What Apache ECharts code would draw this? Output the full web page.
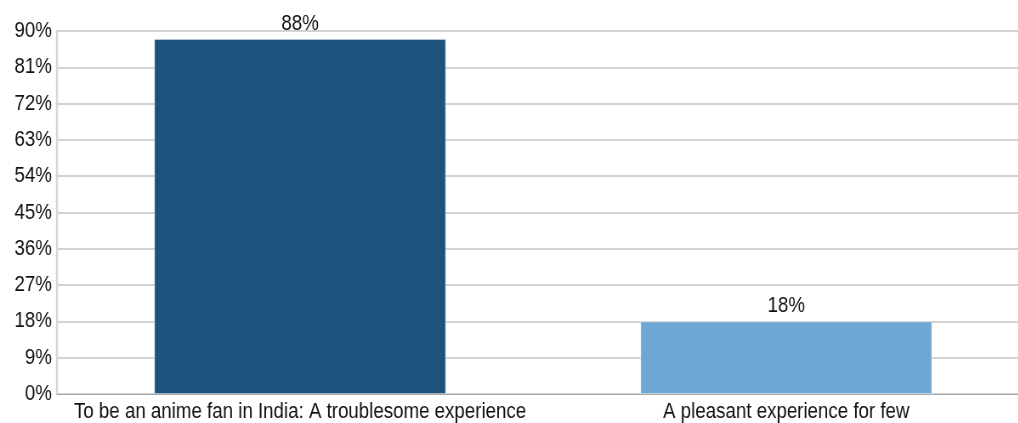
<!DOCTYPE html>
<html>
<head>
<meta charset="utf-8">
<script src="https://cdn.jsdelivr.net/npm/echarts@6/dist/echarts.min.js"></script>
<style>
  html, body { margin: 0; padding: 0; background: #ffffff; overflow: hidden; width: 1018px; height: 423px; }
  /* The chart is laid out wide and compressed horizontally for a condensed type look */
  #chart { width: 1215px; height: 423px; transform: scaleX(0.85); transform-origin: 0 0; }
</style>
</head>
<body>
<div id="chart"></div>
<script>
// Survey categories and share of respondents (percent)
const categories = [
  'To be an anime fan in India: A troublesome experience',
  'A pleasant experience for few'
];
const values = [88, 18];
const barColors = ['#1e527e', '#6fa7d4'];
const yTicks = { min: 0, max: 90, interval: 9 };

const FONT = '"Liberation Sans", Arial, Helvetica, sans-serif';

const chart = echarts.init(document.getElementById('chart'), null, { renderer: 'canvas' });

chart.setOption({
  animation: false,
  backgroundColor: '#ffffff',
  grid: { left: 67, top: 31, right: 4, height: 363, containLabel: false },
  xAxis: {
    type: 'category',
    data: categories,
    axisLine: { show: true, lineStyle: { color: '#a8a8a8', width: 1 } },
    axisTick: { show: false },
    axisLabel: {
      color: '#111111', fontSize: 22, fontFamily: FONT, margin: 7, interval: 0
    },
    splitLine: { show: false }
  },
  yAxis: {
    type: 'value',
    min: yTicks.min,
    max: yTicks.max,
    interval: yTicks.interval,
    axisLine: { show: true, lineStyle: { color: '#d6d6d6', width: 2.4 } },
    axisTick: { show: false },
    axisLabel: {
      color: '#111111', fontSize: 22, fontFamily: FONT, margin: 6,
      formatter: v => v + '%'
    },
    splitLine: { show: true, lineStyle: { color: '#d3d3d3', width: 2 } }
  },
  series: [{
    type: 'bar',
    data: values.map((v, i) => ({
      value: v,
      itemStyle: { color: barColors[i], borderColor: 'rgba(255,255,255,0.35)', borderWidth: 1 }
    })),
    barWidth: '60%',
    label: {
      show: true,
      position: 'top',
      distance: 4,
      color: '#111111',
      fontSize: 22,
      fontFamily: FONT,
      formatter: p => p.value + '%'
    }
  }]
});
</script>
</body>
</html>
